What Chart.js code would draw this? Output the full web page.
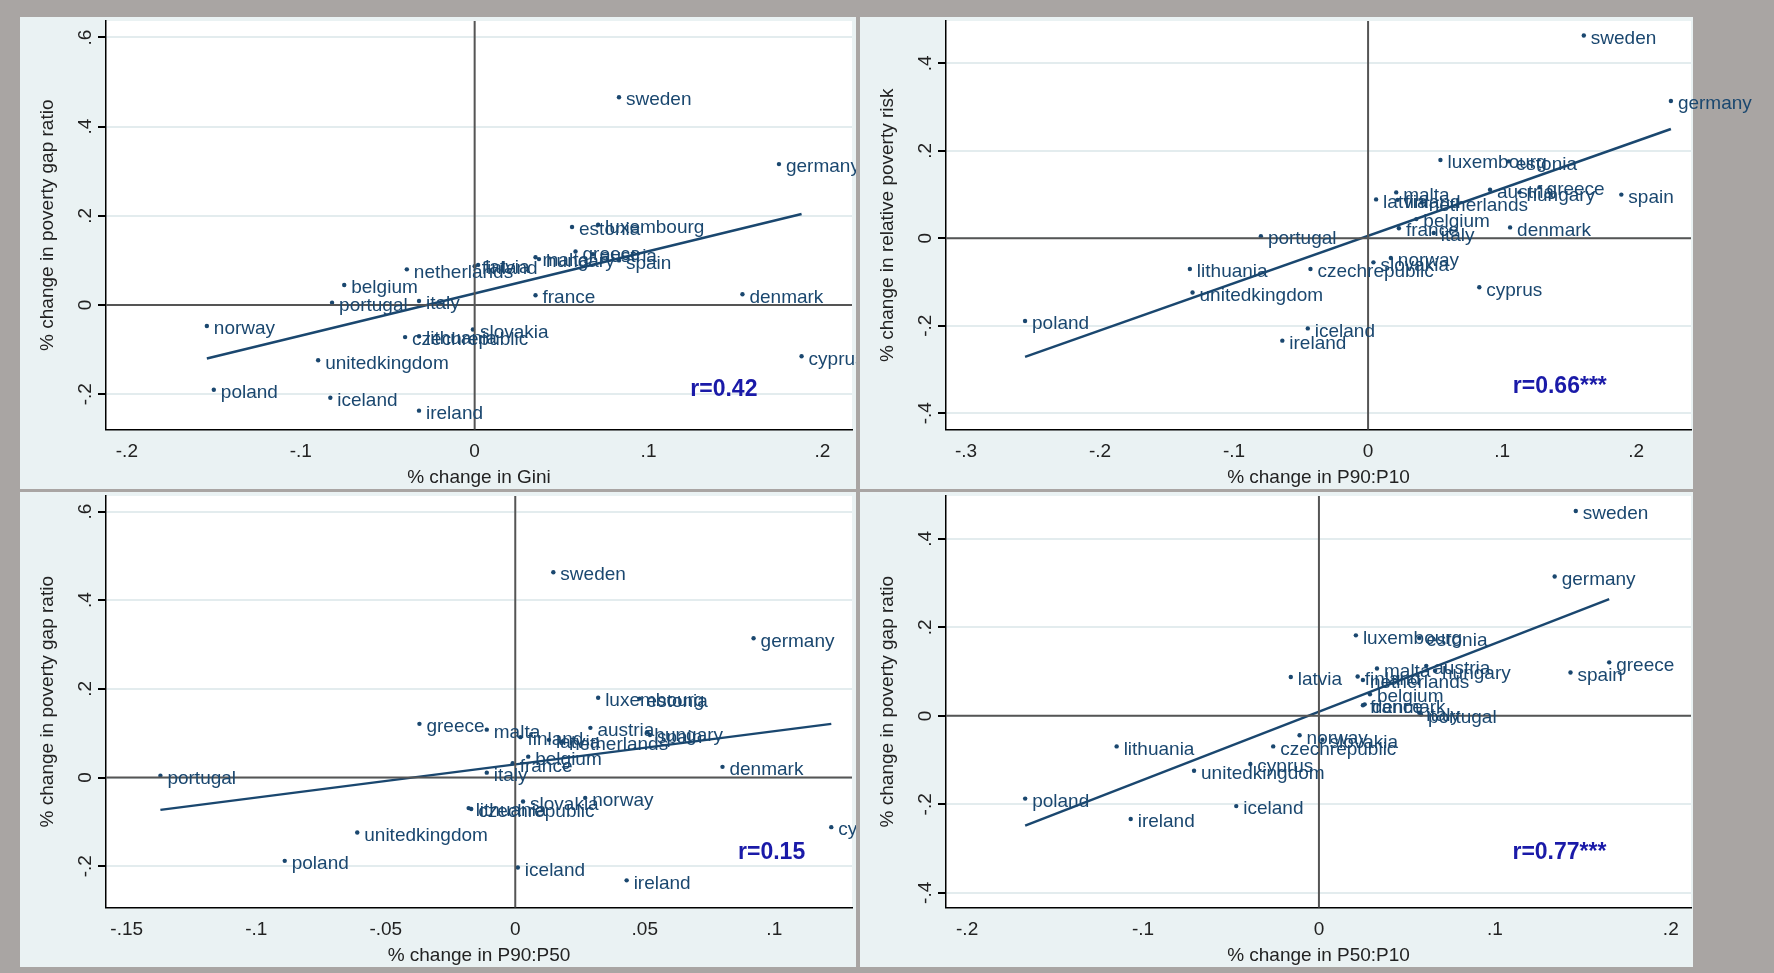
<!DOCTYPE html>
<html>
<head>
<meta charset="utf-8">
<script src="https://cdn.jsdelivr.net/npm/chart.js@4/dist/chart.umd.min.js"></script>
<style>
  body { margin: 0; background: #a9a5a3; width: 1774px; height: 973px; overflow: hidden; position: relative; }
  canvas { position: absolute; }
</style>
</head>
<body>
<canvas id="tl"></canvas>
<canvas id="bl"></canvas>
<canvas id="tr"></canvas>
<canvas id="br"></canvas>
<script>
// countries, same order in every panel
var countries = ["sweden", "germany", "luxembourg", "estonia", "greece", "austria", "hungary", "malta", "spain",
  "finland", "latvia", "netherlands", "belgium", "france", "denmark", "italy", "portugal", "norway", "slovakia",
  "lithuania", "czechrepublic", "cyprus", "unitedkingdom", "poland", "iceland", "ireland"];

// top left: Gini vs poverty gap ratio
var giniX = [.083, .175, .071, .056, .058, .068, .037, .035, .083, 0, .002, -.039, -.075, .035, .154, -.032, -.082, -.154, -.001, -.032, -.04, .188, -.09, -.15, -.083, -.032];
var giniY = [.466, .316, .18, .175, .12, .114, .103, .107, .1, .087, .09, .08, .045, .022, .024, .009, .005, -.047, -.055, -.07, -.072, -.115, -.124, -.19, -.208, -.237];
var giniFit = [[-.154, -.12], [.188, .204]];

// top right: P90:P10 vs relative poverty risk
var p9010X = [.161, .226, .054, .105, .128, .091, .113, .021, .189, .022, .006, .04, .036, .023, .106, .049, -.08, .017, .004, -.133, -.043, .083, -.131, -.256, -.045, -.064];
var p9010Y = [.464, .314, .179, .176, .117, .111, .105, .105, .1, .088, .089, .082, .044, .023, .025, .012, .005, -.045, -.055, -.07, -.07, -.112, -.124, -.189, -.206, -.234];
var p9010Fit = [[-.256, -.271], [.226, .25]];

// bottom left: P90:P50 vs poverty gap ratio
var p9050X = [.0147, .092, .032, .048, -.037, .029, .051, -.011, .052, .002, .013, .018, .005, -.001, .08, -.011, -.137, .027, .003, -.018, -.017, .122, -.061, -.089, .001, .043];
var p9050Y = [.463, .314, .18, .178, .121, .112, .102, .108, .096, .091, .085, .081, .047, .032, .024, .011, .004, -.046, -.054, -.069, -.071, -.112, -.124, -.188, -.203, -.232];
var p9050Fit = [[-.137, -.073], [.122, .121]];

// bottom right: P50:P10 vs poverty gap ratio
var p5010X = [.146, .134, .021, .057, .165, .061, .066, .033, .143, .022, -.016, .025, .029, .025, .026, .057, .058, -.011, .002, -.115, -.026, -.039, -.071, -.167, -.047, -.107];
var p5010Y = [.463, .315, .182, .176, .121, .113, .102, .107, .098, .089, .088, .081, .049, .024, .026, .007, .003, -.044, -.054, -.069, -.069, -.109, -.124, -.187, -.204, -.233];
var p5010Fit = [[-.167, -.248], [.165, .264]];

var navy = "#1a476f";
var fontFam = "'Liberation Sans', Arial, sans-serif";

function fmt(v) {
  var r = Math.round(v * 100) / 100;
  if (r === 0) return "0";
  var s = String(Math.abs(r)).replace(/^0/, "");
  return (r < 0 ? "-" : "") + s;
}

// draws panel background, zero lines, rotated y ticks, y title, point labels and r text
var panelPlugin = {
  id: "panel",
  beforeDraw: function (chart) {
    var c = chart.ctx, o = chart.options.plugins.panel, a = chart.chartArea;
    c.save();
    c.fillStyle = "#eaf2f3";
    c.fillRect(0, 0, o.panelW, chart.height);
    c.fillStyle = "#ffffff";
    c.fillRect(a.left, a.top, a.right - a.left, a.bottom - a.top);
    c.restore();
  },
  afterDatasetsDraw: function (chart) {
    var c = chart.ctx, o = chart.options.plugins.panel, a = chart.chartArea;
    var xs = chart.scales.x, ys = chart.scales.y;
    c.save();
    c.strokeStyle = "#555555";
    c.lineWidth = 2;
    c.beginPath();
    c.moveTo(xs.getPixelForValue(0), a.top);
    c.lineTo(xs.getPixelForValue(0), a.bottom);
    c.moveTo(a.left, ys.getPixelForValue(0));
    c.lineTo(a.right, ys.getPixelForValue(0));
    c.stroke();

    // point labels
    c.fillStyle = navy;
    c.font = "19px " + fontFam;
    c.textBaseline = "middle";
    var pts = chart.data.datasets[0].data;
    pts.forEach(function (p, i) {
      c.fillText(countries[i], xs.getPixelForValue(p.x) + 7, ys.getPixelForValue(p.y) + 3);
    });

    // rotated y tick labels
    c.fillStyle = "#222";
    c.font = "19px " + fontFam;
    c.textAlign = "center";
    o.yTicks.forEach(function (v) {
      c.save();
      c.translate(a.left - 20, ys.getPixelForValue(v));
      c.rotate(-Math.PI / 2);
      c.fillText(fmt(v), 0, 0);
      c.restore();
    });
    c.save();
    c.translate(a.left - 58, (a.top + a.bottom) / 2);
    c.rotate(-Math.PI / 2);
    c.fillText(o.yTitle, 0, 0);
    c.restore();

    c.fillStyle = "#1a1aa8";
    c.font = "bold 23px " + fontFam;
    c.textAlign = "left";
    c.fillText(o.rText, xs.getPixelForValue(o.rAt[0]), ys.getPixelForValue(o.rAt[1]));
    c.restore();
  }
};

function makePanel(id, box, xVals, yVals, fit, xr, yr, xTicks, yTicks, xTitle, yTitle, rText, rAt) {
  var el = document.getElementById(id);
  el.style.left = box.left + "px";
  el.style.top = box.top + "px";
  el.width = box.w;
  el.height = box.h;
  var pts = xVals.map(function (x, i) { return { x: x, y: yVals[i] }; });
  new Chart(el, {
    type: "scatter",
    data: {
      datasets: [
        { data: pts, pointRadius: 2.2, pointBackgroundColor: navy, pointBorderWidth: 0 },
        { type: "line", data: fit.map(function (p) { return { x: p[0], y: p[1] }; }),
          borderColor: navy, borderWidth: 2.5, pointRadius: 0, fill: false }
      ]
    },
    options: {
      responsive: false,
      animation: false,
      layout: { padding: { left: box.padL, top: box.padT, right: box.padR, bottom: 0 } },
      plugins: {
        legend: { display: false },
        tooltip: { enabled: false },
        panel: { panelW: box.panelW, yTicks: yTicks, yTitle: yTitle, rText: rText, rAt: rAt }
      },
      scales: {
        x: {
          type: "linear", min: xr[0], max: xr[1],
          afterBuildTicks: function (s) { s.ticks = xTicks.map(function (v) { return { value: v }; }); },
          grid: { display: false, drawTicks: true, tickLength: 8, tickColor: "#000" },
          border: { color: "#000", width: 1.5 },
          ticks: { color: "#222", padding: 3, font: { size: 19, family: fontFam }, callback: function (v) { return fmt(v); }, maxRotation: 0, autoSkip: false },
          title: { display: true, text: xTitle, color: "#222", font: { size: 19, family: fontFam }, padding: { top: 0, bottom: 0 } }
        },
        y: {
          type: "linear", min: yr[0], max: yr[1],
          afterBuildTicks: function (s) { s.ticks = yTicks.map(function (v) { return { value: v }; }); },
          grid: { color: "#e3ecee", lineWidth: 2, tickLength: 8, tickColor: "#000" },
          border: { color: "#000", width: 1.5 },
          ticks: { display: false }
        }
      }
    },
    plugins: [panelPlugin]
  });
}

makePanel("tl", { left: 20, top: 17, w: 836, h: 472, panelW: 836, padL: 78, padT: 2, padR: 0 },
  giniX, giniY, giniFit, [-.212, .217], [-.279, .637], [-.2, -.1, 0, .1, .2], [-.2, 0, .2, .4, .6],
  "% change in Gini", "% change in poverty gap ratio", "r=0.42", [.124, -.19]);
makePanel("tr", { left: 860, top: 17, w: 914, h: 472, panelW: 833, padL: 78, padT: 2, padR: 83 },
  p9010X, p9010Y, p9010Fit, [-.315, .241], [-.437, .497], [-.3, -.2, -.1, 0, .1, .2], [-.4, -.2, 0, .2, .4],
  "% change in P90:P10", "% change in relative poverty risk", "r=0.66***", [.108, -.34]);
makePanel("bl", { left: 20, top: 492, w: 836, h: 475, panelW: 836, padL: 78, padT: 2, padR: 0 },
  p9050X, p9050Y, p9050Fit, [-.158, .130], [-.293, .635], [-.15, -.1, -.05, 0, .05, .1], [-.2, 0, .2, .4, .6],
  "% change in P90:P50", "% change in poverty gap ratio", "r=0.15", [.086, -.17]);
makePanel("br", { left: 860, top: 492, w: 914, h: 475, panelW: 833, padL: 78, padT: 2, padR: 83 },
  p5010X, p5010Y, p5010Fit, [-.212, .2115], [-.433, .497], [-.2, -.1, 0, .1, .2], [-.4, -.2, 0, .2, .4],
  "% change in P50:P10", "% change in poverty gap ratio", "r=0.77***", [.11, -.31]);
</script>
</body>
</html>
